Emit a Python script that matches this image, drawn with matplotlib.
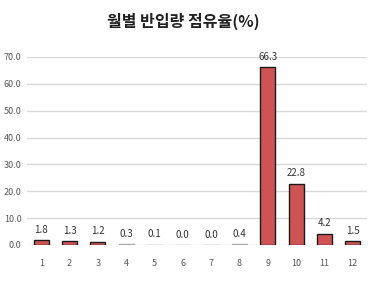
import matplotlib
matplotlib.use("Agg")
import matplotlib.pyplot as plt

plt.rcParams['font.family'] = ['Noto Sans CJK KR', 'DejaVu Sans']

# Monthly share of inbound volume (%)
months = ["1", "2", "3", "4", "5", "6", "7", "8", "9", "10", "11", "12"]
shares = [1.8, 1.3, 1.2, 0.3, 0.1, 0.0, 0.0, 0.4, 66.3, 22.8, 4.2, 1.5]
yticks = [0, 10, 20, 30, 40, 50, 60, 70]

fig = plt.figure(figsize=(3.71, 2.92), dpi=100)
ax = fig.add_axes([0.073, 0.161, 0.916, 0.644])

x = list(range(len(months)))
# tiny bars read as a thin grey line in the original
edges = ["#1a1a1a" if v >= 1 else "#A6A6A6" for v in shares]
bars = ax.bar(x, shares, width=0.53, color="#CD5452",
              edgecolor=edges, linewidth=1.0, zorder=3)

for xi, v in zip(x, shares):
    ax.text(xi, v + 2.0, f"{v:.1f}", ha="center", va="bottom",
            fontsize=7, color="#333333", zorder=4)

ax.set_xlim(-0.5, 11.5)
ax.set_ylim(0, 70)
ax.set_yticks(yticks)
ax.set_yticklabels([f"{t:.1f}" for t in yticks], fontsize=6.5, color="#595959")
ax.set_xticks(x)
ax.set_xticklabels(months, fontsize=6.5, color="#595959")
ax.tick_params(length=0, pad=4)
ax.tick_params(axis="x", pad=10)
ax.grid(axis="y", color="#D9D9D9", linewidth=1.0, zorder=0)
for s in ax.spines.values():
    s.set_visible(False)

fig.text(0.495, 0.925, "월별 반입량 점유율(%)", ha="center", va="center",
         fontsize=11.5, fontweight="bold", color="#222222")

fig.savefig("out.png", dpi=100)
